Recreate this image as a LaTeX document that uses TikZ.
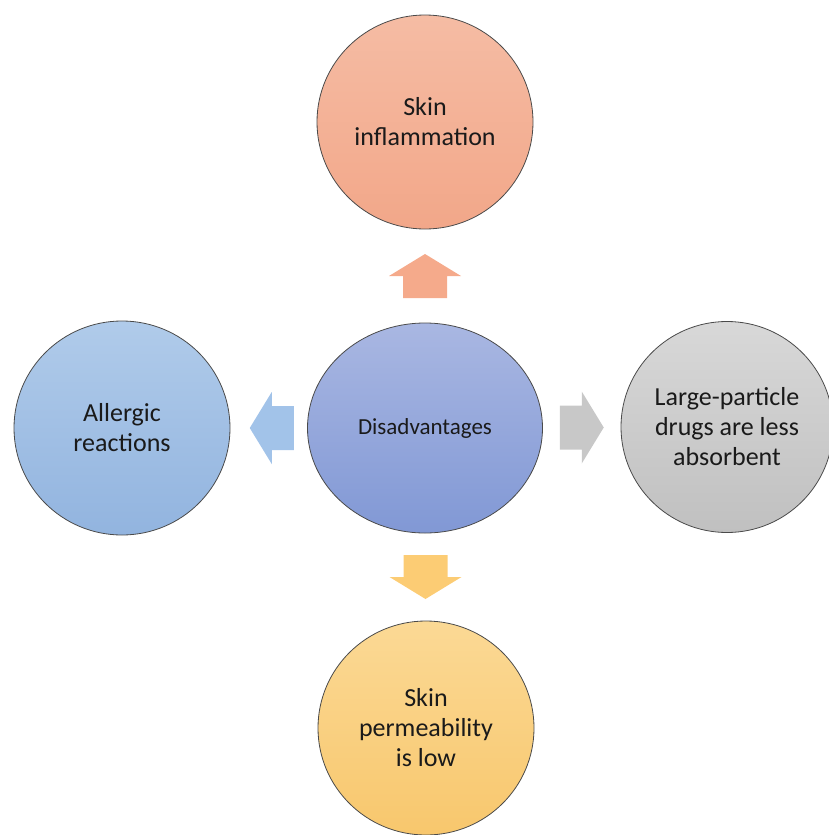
\documentclass[tikz,border=0pt]{standalone}
\usepackage{fontspec}
\setmainfont{Carlito}
\usetikzlibrary{shapes.geometric,calc}

\definecolor{edgegray}{HTML}{4A4A4A}
\definecolor{txt}{HTML}{1A1A1A}
\definecolor{salmonA}{HTML}{F5BCA4}
\definecolor{salmonB}{HTML}{F2A789}
\definecolor{skyA}{HTML}{B0CBEA}
\definecolor{skyB}{HTML}{92B4DF}
\definecolor{indigoA}{HTML}{A9B7E2}
\definecolor{indigoB}{HTML}{8198D5}
\definecolor{greyA}{HTML}{D8D8D8}
\definecolor{greyB}{HTML}{C0C0C0}
\definecolor{goldA}{HTML}{FBD995}
\definecolor{goldB}{HTML}{F8C76D}
\definecolor{arrSalmon}{HTML}{F5AA8B}
\definecolor{arrSky}{HTML}{A2C3E9}
\definecolor{arrGrey}{HTML}{C8C8C8}
\definecolor{arrGold}{HTML}{FCCC74}

\tikzset{
  bubble/.style={ellipse, draw=edgegray, line width=0.8pt, inner sep=0pt,
    minimum width=216pt, minimum height=214pt, align=center, text=txt,
    font=\fontsize{26}{30}\selectfont},
  hub/.style={bubble, minimum width=235pt, minimum height=210pt,
    font=\fontsize{23}{27}\selectfont},
  blockarrow/.pic={
    \path[pic actions] (-22,-22) -- (0,-22) -- (0,-36) -- (22,0)
      -- (0,36) -- (0,22) -- (-22,22) -- cycle;
  }
}

\begin{document}
\begin{tikzpicture}[x=1pt,y=-1pt]
  \useasboundingbox (0,0) rectangle (828,835);

  % centre and the four surrounding bubbles
  \node[hub, top color=indigoA, bottom color=indigoB] (hub) at (425,428) {Disadvantages};
  \node[bubble, top color=salmonA, bottom color=salmonB] (up) at (425,122) {Skin\\inflammation};
  \node[bubble, top color=skyA, bottom color=skyB] (west) at (122,428) {Allergic\\reactions};
  \node[bubble, minimum width=212pt, minimum height=211pt, top color=greyA, bottom color=greyB] (east) at (727,427) {Large-particle\\drugs are less\\absorbent};
  \node[bubble, top color=goldA, bottom color=goldB] (down) at (426,728) {Skin\\permeability\\is low};

  % block arrows between the hub and each bubble
  \coordinate (aUp) at ($(hub.north)!0.5!(up.south)$);
  \coordinate (aWest) at ($(hub.west)!0.5!(west.east)+(3,0)$);
  \coordinate (aEast) at ($(hub.east)!0.5!(east.west)$);
  \coordinate (aDown) at ($(hub.south)!0.5!(down.north)$);

  \pic[fill=arrSalmon, rotate=90] at (aUp) {blockarrow};
  \pic[fill=arrSky, rotate=180] at (aWest) {blockarrow};
  \pic[fill=arrGrey] at (aEast) {blockarrow};
  \pic[fill=arrGold, rotate=-90] at (aDown) {blockarrow};
\end{tikzpicture}
\end{document}
